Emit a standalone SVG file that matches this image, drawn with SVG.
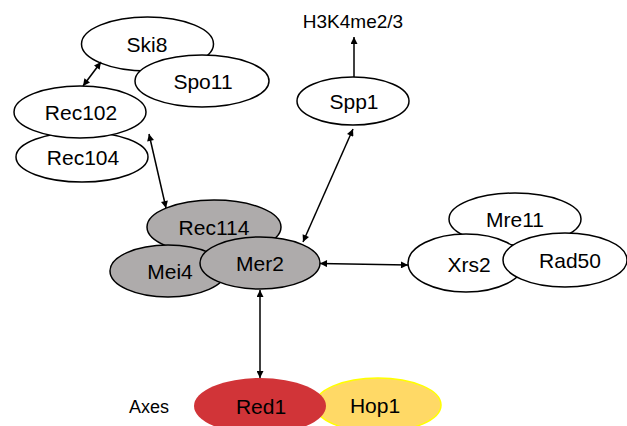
<svg xmlns="http://www.w3.org/2000/svg" width="627" height="426" viewBox="0 0 627 426">
<defs>
<marker id="ah" viewBox="0 0 10 10" refX="10" refY="5" markerWidth="8" markerHeight="7" markerUnits="userSpaceOnUse" orient="auto-start-reverse">
<path d="M0,0 L10,5 L0,10 z" fill="#000"/>
</marker>
<style>
.n{fill:#fff;stroke:#000;stroke-width:1.5}
.g{fill:#AEABAB;stroke:#000;stroke-width:1.5}
.t{font-family:"Liberation Sans",Arial,sans-serif;font-size:21px;fill:#000;text-anchor:middle}
.s{font-family:"Liberation Sans",Arial,sans-serif;font-size:18px;fill:#000;text-anchor:middle}
.c{stroke:#000;stroke-width:1.5;fill:none}
</style>
</defs>
<rect width="627" height="426" fill="#fff"/>
<g id="ski8"><ellipse class="n" cx="147.5" cy="44" rx="66" ry="27"/><text class="t" x="147" y="52">Ski8</text></g>
<g id="spo11"><ellipse class="n" cx="202" cy="81" rx="67" ry="26"/><text class="t" x="203" y="89">Spo11</text></g>
<g id="rec104"><ellipse class="n" cx="82" cy="157" rx="66" ry="25"/><text class="t" x="83" y="165">Rec104</text></g>
<g id="rec102"><ellipse class="n" cx="80" cy="112" rx="66" ry="26"/><text class="t" x="81" y="120">Rec102</text></g>
<g id="spp1"><ellipse class="n" cx="353" cy="101" rx="56" ry="24"/><text class="t" x="354" y="109">Spp1</text></g>
<g id="h3k4"><text class="s" x="353" y="28" style="font-size:19px">H3K4me2/3</text></g>
<g id="mre11"><ellipse class="n" cx="515" cy="219" rx="66" ry="26"/><text class="t" x="515" y="227">Mre11</text></g>
<g id="xrs2"><ellipse class="n" cx="466" cy="263" rx="58" ry="29"/><text class="t" x="469" y="272">Xrs2</text></g>
<g id="rad50"><ellipse class="n" cx="565" cy="260" rx="62" ry="27"/><text class="t" x="570" y="268">Rad50</text></g>
<g id="rec114"><ellipse class="g" cx="214" cy="227" rx="67" ry="27"/><text class="t" x="214" y="235">Rec114</text></g>
<g id="mei4"><ellipse class="g" cx="168" cy="271" rx="58" ry="26"/><text class="t" x="170" y="279">Mei4</text></g>
<g id="mer2"><ellipse class="g" cx="260" cy="263" rx="60" ry="26"/><text class="t" x="260" y="271">Mer2</text></g>
<g id="hop1"><ellipse cx="378" cy="405" rx="63" ry="27" fill="#FFD966" stroke="#FFFF00" stroke-width="1.5"/><text class="t" x="375" y="413">Hop1</text></g>
<g id="red1"><ellipse cx="260" cy="406" rx="66" ry="28" fill="#D13438"/><text class="t" x="261" y="414">Red1</text></g>
<g id="axes"><text class="s" x="149" y="413">Axes</text></g>
<g id="connectors">
<line class="c" x1="101" y1="62" x2="83" y2="86" marker-start="url(#ah)" marker-end="url(#ah)"/>
<line class="c" x1="149" y1="134" x2="166" y2="208" marker-start="url(#ah)" marker-end="url(#ah)"/>
<line class="c" x1="353" y1="129" x2="303" y2="242" marker-start="url(#ah)" marker-end="url(#ah)"/>
<line class="c" x1="320" y1="263.5" x2="408" y2="265" marker-start="url(#ah)" marker-end="url(#ah)"/>
<line class="c" x1="260" y1="290" x2="260" y2="378" marker-start="url(#ah)" marker-end="url(#ah)"/>
<line class="c" x1="354" y1="77" x2="354" y2="37" marker-end="url(#ah)"/>
</g>
</svg>
